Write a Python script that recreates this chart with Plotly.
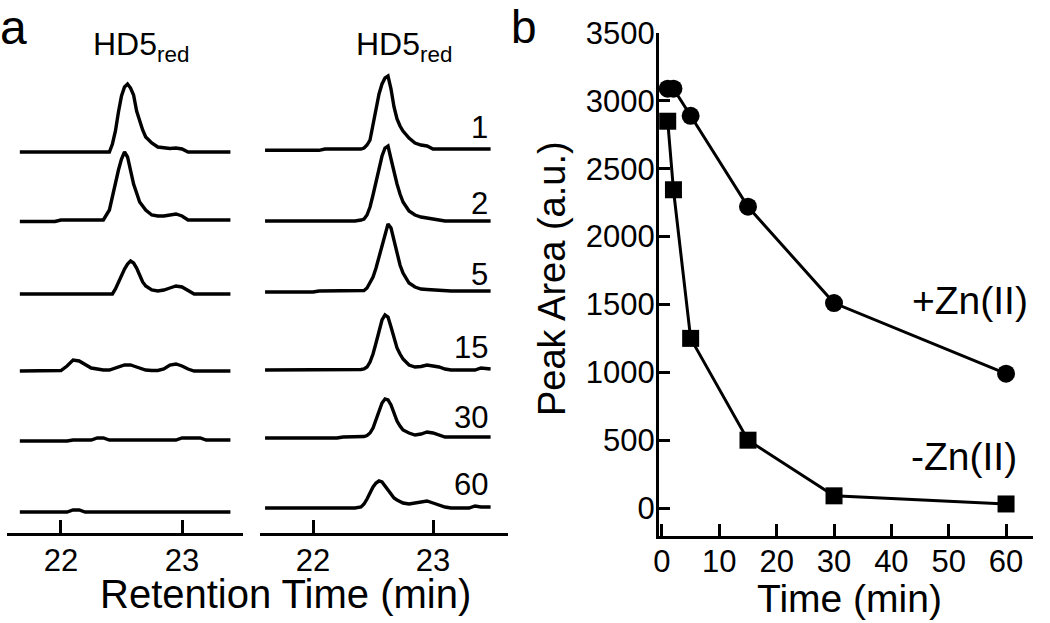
import plotly.graph_objects as go

# ---------------- Panel a: chromatogram traces (signal, arbitrary units) ----------------
rt_left = [21.66, 21.95, 22.00, 22.05, 22.10, 22.15, 22.20, 22.25, 22.30, 22.35, 22.40,
           22.425, 22.45, 22.475, 22.50, 22.525, 22.55, 22.575, 22.60, 22.625, 22.65,
           22.675, 22.70, 22.75, 22.80, 22.85, 22.90, 22.95, 23.00, 23.05, 23.10, 23.15,
           23.20, 23.40]

left_1 = [0, 0, 0, 0, 0, 0, 0, 0, 0, 0, 0, 8, 21, 40, 56, 65, 68, 64, 57, 41, 31, 22, 15,
          9, 5, 4, 3.5, 4, 3, 0, 0, 0, 0, 0]
left_2 = [-1.5, -1.5, 0, 0, 0, 0, 0, 0, 0, 0, 10, 24, 38, 50, 61, 68, 63, 48, 36, 27, 18,
          14, 10, 5, 4, 4, 5, 6, 4, 0, 0, 0, 0, 0]
left_3 = [0, 0, 0, 0, 0, 0, 0, 0, 0, 0, 0, 0, 5, 12, 18, 25, 30, 33, 31, 26, 19, 12, 8, 4,
          3, 4, 6, 8, 7, 3, 0, 0, 0, 0]
left_4 = [0, 0, 0.5, 5, 11, 10, 6, 3, 2, 1, 1, 2, 3, 4, 5, 6, 6, 6, 5, 4, 3, 2, 1, 0.5,
          0.5, 2, 6, 7, 5, 2, 0, 0, 0, 0]
left_5 = [0, 0, 0, 0, 1, 1, 1, 1, 3, 3, 1, 1, 1, 1, 1, 1, 1, 1, 1, 1, 1, 1, 1, 1, 1, 1, 1,
          1, 3, 3, 3, 3, 1, 1]
left_6 = [0, 0, 0, 0, 2, 2, 0, 0, 0, 0, 0, 0, 0, 0, 0, 0, 0, 0, 0, 0, 0, 0, 0, 0, 0, 0, 0,
          0, 0, 0, 0, 0, 0, 0]

rt_right = [21.60, 21.95, 22.00, 22.05, 22.10, 22.15, 22.20, 22.25, 22.30, 22.35, 22.40,
            22.425, 22.45, 22.475, 22.50, 22.525, 22.55, 22.575, 22.60, 22.625, 22.65,
            22.675, 22.70, 22.725, 22.75, 22.80, 22.85, 22.90, 22.95, 23.00, 23.05, 23.10,
            23.15, 23.20, 23.25, 23.30, 23.35, 23.40, 23.48]

right_1 = [-1.3, -1.3, -1.3, -1.3, 0, 0, 0, 0, 0, 0, 0, 1, 4, 9, 24, 40, 55, 65, 71, 73,
           60, 42, 30, 23, 18, 11, 6, 4, 3, 0, 0, 0, 0, 0, 0, 0, 0, 0, 0]
right_2 = [0, 0, 0, 0, 0, 0, 0, 0, 0, 0, 1, 2, 6, 14, 26, 40, 54, 65, 73, 75, 62, 49, 37,
           27, 19, 10, 6, 4, 3, 2, 1, 0, 0, 0, 0, 0, 0, 0, 0]
right_3 = [-1, -1, -1, 0, 0, 0, 0, 0, 0, 0, 0, 0.5, 3, 8, 14, 23, 34, 45, 57, 67, 63, 50,
           37, 26, 18, 8, 4, 2, 1.5, 1, 0.5, 0, 0, 0, 0, 0, 0, 0, 0]
right_4 = [0, 0, 0, 0, 0, 0, 0, 0, 0, 0, 0.5, 1, 3, 8, 16, 27, 40, 50, 55, 53, 43, 32, 22,
           16, 11, 5, 3, 3.5, 5, 4, 3, 1, 0, 0, 0, 0, 0, 2, 1]
right_5 = [-1, -1, -1, -1, -1, -1, -1, 0, 0, 0, 0, 0.5, 1.5, 4, 9, 17, 27, 34, 38, 37, 32,
           24, 16, 11, 7, 4, 2, 3, 5, 4, 2, 0, 0, 0, 0, 0, 0, 0, 0]
right_6 = [0, 0, 0, 0, 0, 0, 0, 0, 0, 0, 1, 4, 9, 15, 21, 25, 27, 26, 22, 18, 13, 10, 8,
           6, 5, 4, 5, 6, 7, 5, 3, 1, 0, 0, 0, 0, 2, 1, 1]

time_labels = ["1", "2", "5", "15", "30", "60"]
rt_ticks = [22, 23]

# ---------------- Panel b: peak area vs time ----------------
time_min = [1, 2, 5, 15, 30, 60]
area_plus_zn = [3090, 3090, 2890, 2220, 1510, 990]
area_minus_zn = [2850, 2345, 1250, 500, 90, 30]
time_ticks = [0, 10, 20, 30, 40, 50, 60]
area_ticks = [0, 500, 1000, 1500, 2000, 2500, 3000, 3500]

# ---------------- layout helpers (pixel -> paper) ----------------
W, H = 1050, 623
def px(x):
    return x / W
def py(y):
    return 1 - y / H

FONT = "Liberation Sans, Arial, Helvetica, sans-serif"
LW = 3.4

# vertical stacking offsets of the traces (layout)
offsets_left = [381, 313, 239, 162, 92, 21]
offsets_right = [384, 312, 242, 163, 96, 25]

fig = go.Figure()

left_traces = [left_1, left_2, left_3, left_4, left_5, left_6]
right_traces = [right_1, right_2, right_3, right_4, right_5, right_6]

for sig, off in zip(left_traces, offsets_left):
    fig.add_trace(go.Scatter(x=rt_left, y=[v + off for v in sig], mode="lines",
                             line=dict(color="black", width=LW),
                             xaxis="x", yaxis="y", showlegend=False, hoverinfo="skip"))
for sig, off in zip(right_traces, offsets_right):
    fig.add_trace(go.Scatter(x=rt_right, y=[v + off for v in sig], mode="lines",
                             line=dict(color="black", width=LW),
                             xaxis="x2", yaxis="y2", showlegend=False, hoverinfo="skip"))

fig.add_trace(go.Scatter(x=time_min, y=area_plus_zn, mode="lines+markers",
                         line=dict(color="black", width=3),
                         marker=dict(symbol="circle", size=18, color="black"),
                         xaxis="x3", yaxis="y3", showlegend=False, cliponaxis=False))
fig.add_trace(go.Scatter(x=time_min, y=area_minus_zn, mode="lines+markers",
                         line=dict(color="black", width=3),
                         marker=dict(symbol="square", size=17, color="black"),
                         xaxis="x3", yaxis="y3", showlegend=False, cliponaxis=False))

tickfont = dict(family=FONT, size=31, color="black")
a_dom_y = [py(533), py(60)]

chrom_x = dict(range=[21.554, 23.504], showline=True, linewidth=3, linecolor="black",
               ticks="inside", ticklen=13, tickwidth=3, tickcolor="black",
               tickvals=rt_ticks, ticktext=[str(t) for t in rt_ticks], tickfont=tickfont,
               showgrid=False, zeroline=False, fixedrange=True, automargin=False,
               ticklabelstandoff=-2)

fig.update_layout(
    width=W, height=H,
    margin=dict(l=0, r=0, t=0, b=0, autoexpand=False),
    paper_bgcolor="white", plot_bgcolor="white",
    font=dict(family=FONT, color="black"),
    xaxis=dict(chrom_x, domain=[px(7), px(243)], anchor="y"),
    xaxis2=dict(chrom_x, domain=[px(260), px(508)], range=[21.558, 23.625], anchor="y2"),
    yaxis=dict(domain=a_dom_y, range=[0, 473], visible=False, anchor="x", automargin=False),
    yaxis2=dict(domain=a_dom_y, range=[0, 473], visible=False, anchor="x2", automargin=False),
    xaxis3=dict(domain=[px(659), px(1033)], range=[-0.52, 64.7], anchor="y3",
                showline=True, linewidth=3, linecolor="black",
                ticks="inside", ticklen=12, tickwidth=3, tickcolor="black",
                tickvals=time_ticks, tickfont=tickfont, showgrid=False, zeroline=False,
                automargin=False, ticklabelstandoff=-4),
    yaxis3=dict(domain=[py(536), py(33)], range=[-206, 3500], anchor="x3",
                showline=True, linewidth=3, linecolor="black",
                ticks="inside", ticklen=11, tickwidth=3, tickcolor="black",
                tickvals=area_ticks, tickfont=tickfont, showgrid=False, zeroline=False,
                automargin=False, ticklabelstandoff=-5),
)

ann = []
def add_text(text, x, y, size, xanchor="center", yanchor="middle", angle=0):
    ann.append(dict(text=text, x=px(x), y=py(y), xref="paper", yref="paper",
                    xanchor=xanchor, yanchor=yanchor, showarrow=False, textangle=angle,
                    font=dict(family=FONT, size=size, color="black")))

add_text("a", 13, 27, 48)
add_text("b", 524, 27, 46)
add_text("HD5<sub>red</sub>", 141, 47, 32)
add_text("HD5<sub>red</sub>", 404, 47, 32)

label_y = [127, 203, 275, 347, 417, 484]
for lab, yy in zip(time_labels, label_y):
    add_text(lab, 490, yy, 31, xanchor="right")

add_text("Retention Time (min)", 285, 594, 40)
add_text("Time (min)", 849, 598, 39)
add_text("Peak Area (a.u.)", 552, 279, 38, angle=-90)
add_text("+Zn(II)", 970, 300, 39)
add_text("-Zn(II)", 964, 456, 39)

fig.update_layout(annotations=ann)

fig.write_html("out.html", config={"displayModeBar": False},
               post_script="document.body.style.margin='0';")
